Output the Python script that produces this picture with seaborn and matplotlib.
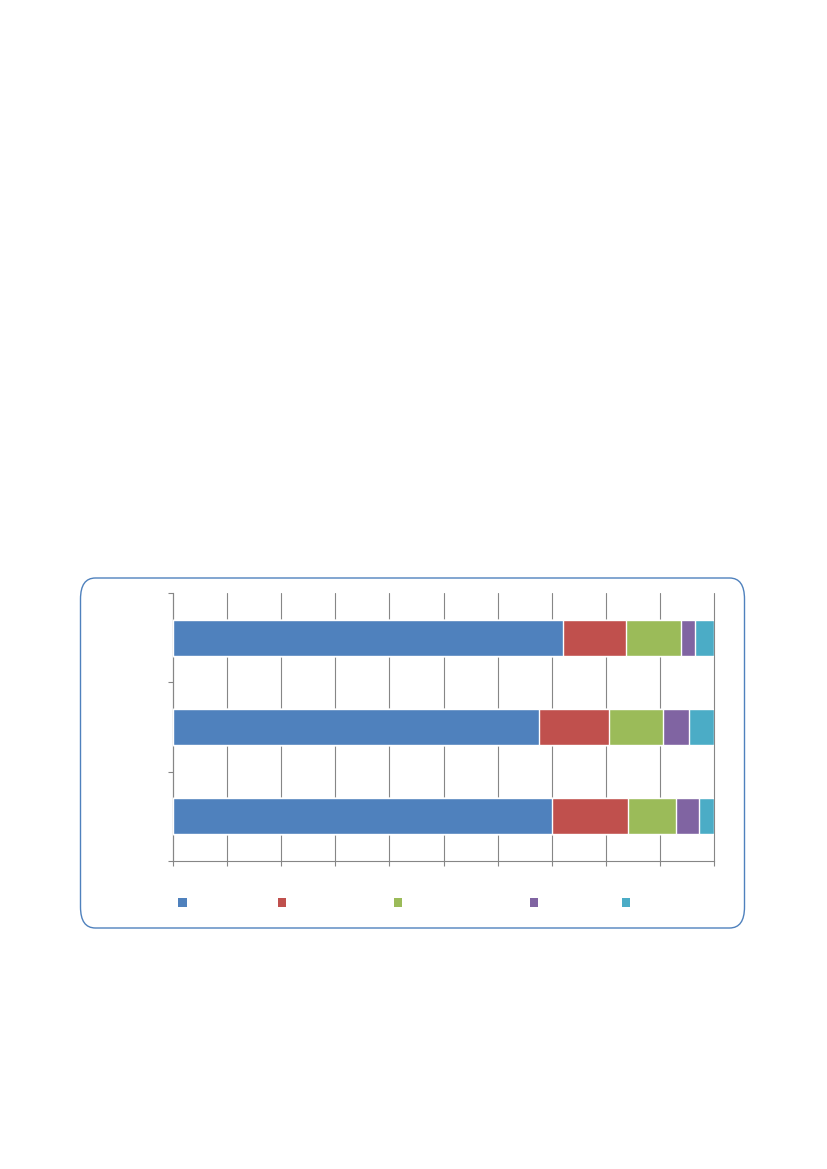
import numpy as np
import pandas as pd
import matplotlib
matplotlib.use("Agg")
import matplotlib.pyplot as plt
import seaborn as sns
from matplotlib.patches import FancyBboxPatch, Patch

# data (percent shares, each row sums to 100)
rows = ["row1", "row2", "row3"]
series = ["s1", "s2", "s3", "s4", "s5"]
s1 = [72.1, 67.7, 70.0]
s2 = [11.6, 12.9, 14.1]
s3 = [10.2, 9.9, 8.9]
s4 = [2.6, 4.9, 4.3]
s5 = [3.5, 4.6, 2.7]
colors = ["#4F81BD", "#C0504D", "#9BBB59", "#8064A2", "#4BACC6"]
# legend key centres (px), labels are blank in the source
legend_x = [182.5, 282, 398, 534, 626]

df = pd.DataFrame({"row": rows, "s1": s1, "s2": s2, "s3": s3, "s4": s4, "s5": s5})
cum = df[series].cumsum(axis=1)

sns.set_theme(style="white")
W, H = 827, 1169
fig = plt.figure(figsize=(W / 100, H / 100), dpi=100)

# rounded frame around the chart
frame = FancyBboxPatch((80.5 / W, 1 - 928 / H), 664 / W, 350 / H,
                       boxstyle="round,pad=0,rounding_size=0.018",
                       transform=fig.transFigure, fill=False,
                       edgecolor="#4F81BD", linewidth=1.0)
fig.add_artist(frame)

ax = fig.add_axes([173 / W, 1 - 861 / H, 541 / W, 268 / H])

# stacked bars: draw cumulative totals from the back
for name, col in reversed(list(zip(series, colors))):
    sns.barplot(data=cum.assign(row=rows), x=name, y="row", orient="h",
                color=col, width=0.4, saturation=1, ax=ax, zorder=3)

ax.set_xlim(0, 100)
ax.set_ylim(2.5, -0.5)
ax.set_xticks(np.arange(0, 101, 10))
ax.set_yticks([-0.5, 0.5, 1.5, 2.5])
ax.set_xticklabels([])
ax.set_yticklabels([])
ax.set_xlabel("")
ax.set_ylabel("")
ax.grid(axis="x", color="#868686", linewidth=0.8, zorder=0)
ax.grid(axis="y", visible=False)
for gl in ax.get_xgridlines():
    gl.set_clip_on(False)
for side in ["top", "right"]:
    ax.spines[side].set_visible(False)
for side in ["left", "bottom"]:
    ax.spines[side].set_color("#868686")
    ax.spines[side].set_linewidth(0.8)
ax.tick_params(axis="both", direction="out", length=3.5, width=0.8,
               color="#868686", bottom=True, left=True)

# legend keys without text
for x, col in zip(legend_x, colors):
    leg = fig.legend(handles=[Patch(facecolor=col, edgecolor="none")], labels=[""],
                     loc="center", bbox_to_anchor=(x / W, 1 - 903.5 / H),
                     frameon=False, handlelength=0.55, handleheight=0.55,
                     handletextpad=0, borderpad=0, borderaxespad=0)

fig.savefig("out.png", dpi=100)
